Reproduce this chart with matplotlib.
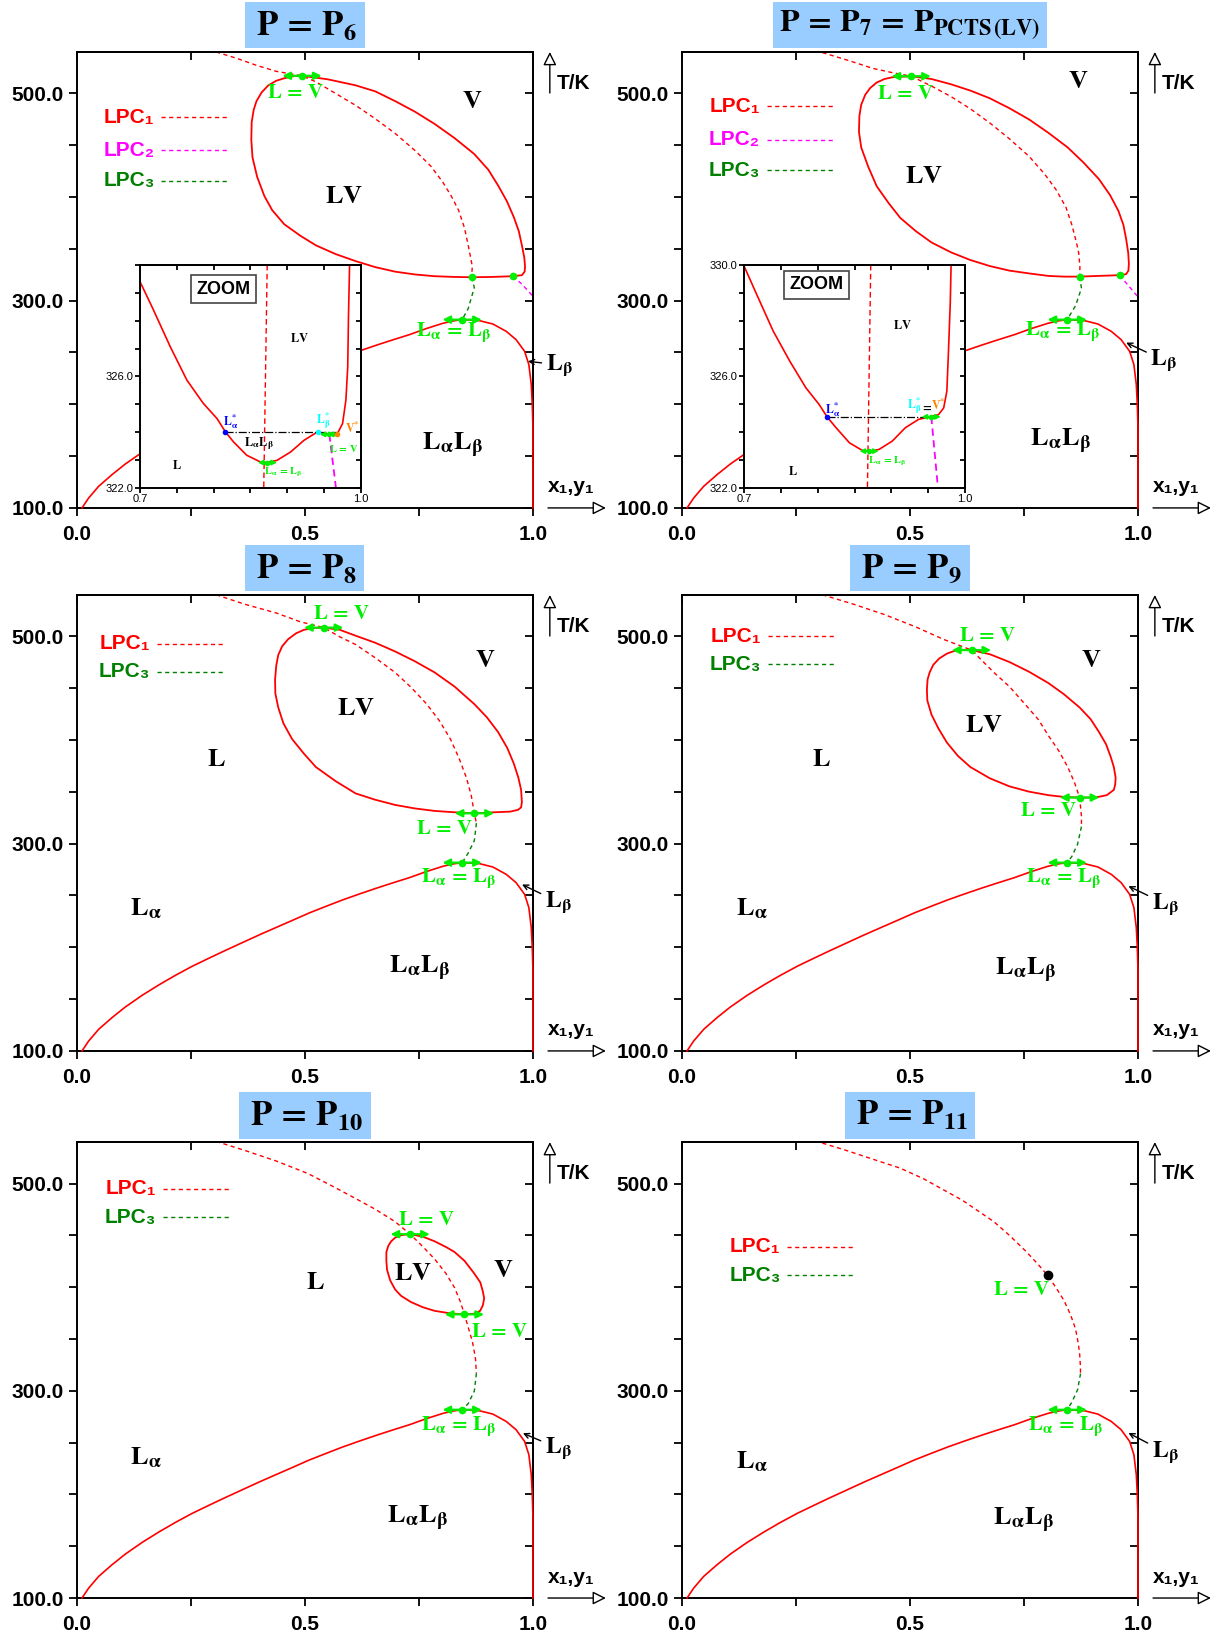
# Phase diagrams T-x at six pressures, P6 .. P11
import matplotlib.pyplot as plt

plt.rcParams['font.family'] = ['Liberation Sans', 'DejaVu Sans']
plt.rcParams['mathtext.fontset'] = 'stix'

RED = '#ff0000'
MAG = '#ff00ff'
DKGREEN = '#008000'
LIME = '#00ee00'

X_TICKS = [0.0, 0.25, 0.5, 0.75, 1.0]
X_TICK_LABELS = ['0.0', '', '0.5', '', '1.0']
Y_TICKS = [100, 150, 200, 250, 300, 350, 400, 450, 500]
Y_TICK_LABELS = ['100.0', '', '', '', '300.0', '', '', '', '500.0']
ZX_TICKS = [0.7, 0.75, 0.8, 0.85, 0.9, 0.95, 1.0]
ZX_TICK_LABELS = ['0.7', '', '', '', '', '', '1.0']
ZY_TICKS = [322, 323, 324, 325, 326, 327, 328, 329, 330]
ZY_TICK_LABELS_P6 = ['322.0', '', '', '', '326.0', '', '', '', '']
ZY_TICK_LABELS_P7 = ['322.0', '', '', '', '326.0', '', '', '', '330.0']

# Lalpha-Lbeta boundary (same in every panel)
LOW_X = [0.011, 0.0256, 0.0476, 0.077, 0.106, 0.143, 0.1795, 0.216, 0.2527, 0.289, 0.326, 0.3626,
         0.3993, 0.436, 0.4725, 0.509, 0.546, 0.5824, 0.619, 0.6557, 0.692, 0.729, 0.7656, 0.802,
         0.824, 0.8447, 0.8828, 0.912, 0.9414, 0.963, 0.9817, 0.991, 0.9963, 0.9985, 1.0, 1.0]
LOW_T = [100, 109.6, 120.9, 132.2, 142.4, 153.7, 163.7, 173, 181.7, 189.4, 197.1, 204.5,
         211.9, 219, 226, 233.1, 239.5, 245.7, 251.4, 256.9, 262.1, 267.2, 273, 278.1,
         280.4, 281.7, 280.7, 277.5, 270.4, 262.4, 251.1, 238.3, 219, 199.7, 177.2, 100]
LALB_POINT = (0.8447, 281.7)

# ---------------- P6 ----------------
P6_LV_X = [0.4935, 0.55, 0.611, 0.654, 0.698, 0.741, 0.7845, 0.828, 0.871, 0.902, 0.9236, 0.943, 0.958,
           0.969, 0.9757, 0.981, 0.9826, 0.9818, 0.9757, 0.9557, 0.9105, 0.8653, 0.828, 0.7845, 0.741,
           0.6977, 0.654, 0.6108, 0.567, 0.5239, 0.489, 0.4544, 0.428, 0.411, 0.395, 0.3849, 0.3823,
           0.3831, 0.3875, 0.3936, 0.405, 0.4196, 0.437, 0.4544, 0.476, 0.4935]
P6_LV_T = [517, 513.6, 507.8, 502, 492.5, 482.4, 470.5, 456.9, 441.6, 426.4, 411.1, 395.8, 380.6,
           367, 353.4, 341.6, 333.1, 328, 324.6, 323.6, 322.9, 322.6, 322.9, 323.6, 325.3,
           328, 332.4, 338.2, 345, 353.4, 362.9, 373.8, 387.4, 400.9, 419.6, 438.3, 455.2,
           472.2, 484.1, 492.5, 501, 507.8, 512.2, 514.6, 516.7, 517]
P6_LPC1_X = [0.305, 0.350, 0.3936, 0.437, 0.4935, 0.524, 0.567, 0.611, 0.654, 0.698, 0.741, 0.776,
             0.802, 0.821, 0.8367, 0.8497, 0.858, 0.864, 0.867, 0.8653]
P6_LPC1_T = [540, 533.9, 527.1, 521.3, 517, 511.2, 500, 488.5, 475.6, 461.3, 445, 429.8,
             414.5, 400.9, 387.4, 370.4, 353.4, 339.9, 333, 322.6]
P6_LPC2_X = [0.9557, 0.9757, 1.0]
P6_LPC2_T = [323.6, 316, 304.2]
P6_LPC3_X = [0.8653, 0.8714, 0.858, 0.8447]
P6_LPC3_T = [322.6, 312.7, 292.4, 281.7]
P6Z_X = [0.7, 0.718, 0.741, 0.7636, 0.786, 0.8045, 0.816, 0.827, 0.845, 0.8636, 0.873, 0.886, 0.9045,
         0.9227, 0.941, 0.957, 0.968, 0.975, 0.9795, 0.982, 0.983, 0.9845]
P6Z_T = [329.4, 328.4, 327.07, 325.87, 325.03, 324.49, 324.01, 323.65, 323.17, 322.93, 322.91, 322.99, 323.29,
         323.71, 324.01, 323.92, 323.95, 324.31, 325.15, 326.35, 328.14, 330]
P6Z_LPC1_X = [0.8727, 0.868]
P6Z_LPC1_T = [330, 322]
P6Z_LPC2_X = [0.957, 0.966]
P6Z_LPC2_T = [323.92, 322]
P6Z_TIE_X = [0.816, 0.968]
P6Z_TIE_T = [324.01, 324.01]

# ---------------- P7 ----------------
P7_LV_X = [0.5026, 0.547, 0.59, 0.6325, 0.675, 0.718, 0.761, 0.8034, 0.846, 0.880, 0.9145, 0.9385, 0.957,
           0.968, 0.974, 0.9786, 0.980, 0.979, 0.974, 0.96, 0.9145, 0.870, 0.8376, 0.803, 0.761, 0.718,
           0.675, 0.6325, 0.59, 0.547, 0.513, 0.4786, 0.453, 0.427, 0.4085, 0.393, 0.388, 0.389, 0.393,
           0.4017, 0.413, 0.427, 0.444, 0.4615, 0.5026]
P7_LV_T = [516.6, 513.9, 508.8, 502.7, 495.3, 485.7, 474.9, 462, 447.8, 433.5, 417.2, 402, 386.7,
           373.1, 359.5, 346, 335.8, 329, 325.6, 324.6, 323.9, 323.2, 323.2, 323.9, 326.3, 329,
           333.4, 339.2, 346.6, 356.2, 367, 379.9, 394.2, 410.4, 429.1, 447.8, 463, 478.3, 489.1,
           498.6, 505.4, 510.5, 513.9, 515.6, 516.6]
P7_LPC1_X = [0.3077, 0.359, 0.419, 0.4615, 0.5026, 0.547, 0.59, 0.6325, 0.675, 0.718, 0.761, 0.795,
             0.8205, 0.842, 0.855, 0.865, 0.870, 0.8726, 0.872]
P7_LPC1_T = [539.4, 532.6, 524.1, 520, 516.6, 507.1, 496.9, 485.1, 471.5, 456.2, 439.3, 422.3,
             407, 390.1, 373.1, 356.2, 346, 332.4, 323.2]
P7_LPC2_X = [0.96, 0.974, 1.0]
P7_LPC2_T = [324.6, 317.1, 303.6]
P7_LPC3_X = [0.872, 0.876, 0.863, 0.8447]
P7_LPC3_T = [323.2, 312, 295.1, 281.7]
P7Z_X = [0.7, 0.717, 0.7395, 0.762, 0.784, 0.802, 0.8127, 0.8249, 0.843, 0.8608, 0.8698, 0.8832, 0.9012,
         0.919, 0.937, 0.9528, 0.964, 0.971, 0.9753, 0.9775, 0.98, 0.981]
P7Z_T = [329.96, 328.95, 327.63, 326.55, 325.59, 324.99, 324.55, 324.16, 323.62, 323.34, 323.32, 323.38, 323.68,
         324.16, 324.46, 324.55, 324.63, 324.87, 325.47, 326.9, 328.7, 329.96]
P7Z_LPC1_X = [0.872, 0.8675]
P7Z_LPC1_T = [330, 322]
P7Z_LPC2_X = [0.9542, 0.9632]
P7Z_LPC2_T = [324.55, 322]
P7Z_TIE_X = [0.8127, 0.9528]
P7Z_TIE_T = [324.55, 324.55]

# ---------------- P8 ----------------
P8_LV_X = [0.541, 0.576, 0.611, 0.654, 0.6976, 0.741, 0.7845, 0.828, 0.8714, 0.899, 0.9235, 0.9435, 0.958,
           0.968, 0.974, 0.9757, 0.974, 0.967, 0.95, 0.915, 0.8714, 0.828, 0.7845, 0.741, 0.6976, 0.654,
           0.611, 0.567, 0.524, 0.498, 0.4718, 0.4527, 0.4414, 0.435, 0.4344, 0.437, 0.4414, 0.450, 0.463,
           0.4805, 0.498, 0.52, 0.541]
P8_LV_T = [508.5, 506.4, 500.7, 493.9, 485.5, 476, 465.2, 451.6, 434.7, 421.9, 407.7, 392.5, 377.3,
           363.7, 351.9, 340.1, 335, 332.6, 330.9, 330.3, 329.3, 330.3, 331.6, 334, 337.4, 342.4,
           348.5, 360.4, 373.9, 386.7, 400.9, 416.1, 431.4, 444.9, 458.4, 471.9, 482.1, 490.5, 497.3,
           503, 506.4, 508.1, 508.5]
P8_LPC1_X = [0.305, 0.3675, 0.437, 0.489, 0.541, 0.576, 0.611, 0.654, 0.6976, 0.7324, 0.767, 0.795,
             0.819, 0.838, 0.854, 0.8645, 0.8714, 0.876]
P8_LPC1_T = [540.2, 531.1, 522.6, 514.2, 508.5, 499.7, 492.2, 479.4, 465.2, 451, 434.7, 418.5,
             400.9, 382.3, 363.7, 346.8, 329.3, 319.8]
P8_LPC3_X = [0.876, 0.8714, 0.858, 0.8447]
P8_LPC3_T = [319.8, 302.9, 291, 281.7]

# ---------------- P9 ----------------
P9_LV_X = [0.635, 0.675, 0.718, 0.761, 0.8034, 0.8376, 0.872, 0.896, 0.9145, 0.930, 0.940, 0.947, 0.951,
           0.950, 0.947, 0.9316, 0.906, 0.872, 0.8376, 0.8034, 0.761, 0.718, 0.675, 0.6325, 0.605, 0.581,
           0.5624, 0.547, 0.538, 0.537, 0.5385, 0.543, 0.551, 0.564, 0.581, 0.598, 0.615, 0.635]
P9_LV_T = [486.8, 482.8, 475.3, 465.9, 455, 444.2, 431.4, 420.2, 407.7, 395.9, 384, 373.9, 363.7,
           357, 351.9, 346.8, 344.5, 344.5, 345.1, 346.8, 350.2, 355.3, 363.1, 373.9, 384.7, 397.5,
           411.1, 424.6, 438.1, 448.3, 458.4, 465.2, 472.6, 478.7, 483.4, 486.1, 487.1, 486.8]
P9_LPC1_X = [0.3077, 0.376, 0.4444, 0.513, 0.5726, 0.635, 0.684, 0.718, 0.752, 0.782, 0.8034, 0.827,
             0.846, 0.861, 0.872, 0.876, 0.876]
P9_LPC1_T = [540.2, 531.1, 521, 509.1, 497.3, 486.8, 465.2, 451.6, 434.7, 419.5, 404.3, 389.1,
             373.9, 358.7, 344.5, 326.5, 316.4]
P9_LPC3_X = [0.876, 0.8675, 0.855, 0.8447]
P9_LPC3_T = [316.4, 299.5, 287.7, 281.7]

# ---------------- P10 ----------------
P10_LV_X = [0.7307, 0.7585, 0.7845, 0.8106, 0.828, 0.850, 0.871, 0.8845, 0.890, 0.893, 0.890, 0.884,
            0.871, 0.8497, 0.819, 0.7845, 0.7585, 0.732, 0.7107, 0.6976, 0.687, 0.680, 0.6785, 0.6785,
            0.683, 0.689, 0.6976, 0.706, 0.7146, 0.7307]
P10_LV_T = [451.1, 448.7, 444.2, 438.4, 433.9, 425.3, 413.3, 404.6, 396, 389.2, 382.3, 377.1,
            374.4, 373.7, 374.7, 377.1, 380.6, 385.7, 391.6, 397.8, 406.4, 416.7, 425.3, 433.9,
            440.1, 444.2, 447.7, 449.4, 450.4, 451.1]
P10_LPC1_X = [0.305, 0.3675, 0.437, 0.5065, 0.567, 0.611, 0.654, 0.6976, 0.7307, 0.7585, 0.7845, 0.809,
              0.828, 0.841, 0.8497, 0.860, 0.867, 0.8714, 0.874, 0.876]
P10_LPC1_T = [540.6, 532, 521.7, 509.6, 495.9, 485.5, 475.2, 463.2, 451.1, 439.1, 427, 413.3,
              399.5, 385.7, 373.7, 358.2, 347.8, 337.5, 330.6, 316.9]
P10_LPC3_X = [0.876, 0.8714, 0.858, 0.8447]
P10_LPC3_T = [316.9, 299.7, 287.6, 281.7]

# ---------------- P11 ----------------
P11_LPC1_X = [0.3077, 0.359, 0.419, 0.4786, 0.530, 0.5726, 0.615, 0.6496, 0.684, 0.718, 0.752, 0.778,
              0.8017, 0.8205, 0.8376, 0.852, 0.863, 0.869, 0.872, 0.8735, 0.874]
P11_LPC1_T = [539, 532.1, 523.4, 514.8, 504.5, 494.1, 483.8, 473.4, 463.1, 450, 435.5, 423.4,
              411.4, 399.3, 387.2, 373.4, 359.7, 345.9, 335.5, 325.2, 316.6]
P11_LPC3_X = [0.874, 0.8675, 0.855, 0.8447]
P11_LPC3_T = [316.6, 301, 289, 281.7]
P11_CRIT = (0.8017, 411.4)


def bf(s):
    return r'$\mathbf{' + s + '}$'


LA = r'L_{\alpha}'
LB = r'L_{\beta}'
LEQV = r'L\,=\,V'
LAEQLB = LA + r'\,=\,' + LB

PANELS = [
    dict(title=bf(r'\,P\,=\,P_{6}\,'), tsize=25, pos=[0.0626, 0.6901],
         lv=(P6_LV_X, P6_LV_T), lpc1=(P6_LPC1_X, P6_LPC1_T), lpc2=(P6_LPC2_X, P6_LPC2_T),
         lpc3=(P6_LPC3_X, P6_LPC3_T),
         arrows=[(0.4935, 517), LALB_POINT], dots=[(0.8653, 322.6), (0.9557, 323.6)],
         legend=(0.185, 0.333, [477, 445, 415.5]),
         regions=[('V', 0.867, 492.5), ('LV', 0.585, 401), (LA + LB, 0.824, 160)],
         green=[(LEQV, 0.4805, 501), (LAEQLB, 0.825, 268.6)],
         lb=((1.028, 238), (0.989, 241.5))),
    dict(title=bf(r'P\,=\,P_{7}\,=\,P_{PCTS\,(LV)}'), tsize=23, pos=[0.5545, 0.6901],
         lv=(P7_LV_X, P7_LV_T), lpc1=(P7_LPC1_X, P7_LPC1_T), lpc2=(P7_LPC2_X, P7_LPC2_T),
         lpc3=(P7_LPC3_X, P7_LPC3_T),
         arrows=[(0.5026, 516.6), LALB_POINT], dots=[(0.872, 323.2), (0.96, 324.6)],
         legend=(0.186, 0.333, [487.8, 455.2, 425.7]),
         regions=[('V', 0.870, 512), ('LV', 0.53, 420.6), (LA + LB, 0.829, 164.5)],
         green=[(LEQV, 0.49, 500.3), (LAEQLB, 0.835, 269.6)],
         lb=((1.027, 242.5), (0.974, 259.5))),
    dict(title=bf(r'\,P\,=\,P_{8}\,'), tsize=25, pos=[0.0626, 0.3588],
         lv=(P8_LV_X, P8_LV_T), lpc1=(P8_LPC1_X, P8_LPC1_T), lpc2=None,
         lpc3=(P8_LPC3_X, P8_LPC3_T),
         arrows=[(0.541, 508.5), (0.8714, 329.3), LALB_POINT], dots=[],
         legend=(0.176, 0.324, [492.9, 465.9]),
         regions=[('V', 0.896, 477), ('LV', 0.611, 431), ('L', 0.305, 382), (LA, 0.150, 237),
                  (LA + LB, 0.75, 179.5)],
         green=[(LEQV, 0.58, 522), (LEQV, 0.806, 314.7), (LAEQLB, 0.837, 265.7)],
         lb=((1.026, 243.7), (0.976, 260.6))),
    dict(title=bf(r'\,P\,=\,P_{9}\,'), tsize=25, pos=[0.5545, 0.3588],
         lv=(P9_LV_X, P9_LV_T), lpc1=(P9_LPC1_X, P9_LPC1_T), lpc2=None,
         lpc3=(P9_LPC3_X, P9_LPC3_T),
         arrows=[(0.635, 486.8), (0.872, 344.5), LALB_POINT], dots=[],
         legend=(0.188, 0.338, [500, 473]),
         regions=[('V', 0.897, 477), ('LV', 0.662, 414.5), ('L', 0.306, 382), (LA, 0.154, 237),
                  (LA + LB, 0.752, 177.8)],
         green=[(LEQV, 0.671, 500.7), (LEQV, 0.803, 331.6), (LAEQLB, 0.838, 265.7)],
         lb=((1.03, 242), (0.979, 259))),
    dict(title=bf(r'\,P\,=\,P_{10}\,'), tsize=25, pos=[0.0626, 0.0250],
         lv=(P10_LV_X, P10_LV_T), lpc1=(P10_LPC1_X, P10_LPC1_T), lpc2=None,
         lpc3=(P10_LPC3_X, P10_LPC3_T),
         arrows=[(0.7307, 451.1), (0.8497, 373.7), LALB_POINT], dots=[],
         legend=(0.189, 0.337, [494.8, 467.3]),
         regions=[('V', 0.934, 416.7), ('LV', 0.737, 413.3), ('L', 0.522, 404.6), (LA, 0.150, 235),
                  (LA + LB, 0.747, 177)],
         green=[(LEQV, 0.767, 465.6), (LEQV, 0.927, 357), (LAEQLB, 0.837, 265.2)],
         lb=((1.026, 244.6), (0.978, 259))),
    dict(title=bf(r'\,P\,=\,P_{11}\,'), tsize=25, pos=[0.5545, 0.0250],
         lv=None, lpc1=(P11_LPC1_X, P11_LPC1_T), lpc2=None,
         lpc3=(P11_LPC3_X, P11_LPC3_T),
         arrows=[LALB_POINT], dots=[],
         legend=(0.231, 0.374, [439, 411.4]),
         regions=[(LA, 0.154, 232), (LA + LB, 0.748, 175.2)],
         green=[(LEQV, 0.744, 397.6), (LAEQLB, 0.842, 264.8)],
         lb=((1.03, 240.7), (0.979, 259.3)), crit=P11_CRIT),
]

INSETS = [
    dict(left=0.1138, x=P6Z_X, t=P6Z_T, lpc1=(P6Z_LPC1_X, P6Z_LPC1_T),
         lpc2=(P6Z_LPC2_X, P6Z_LPC2_T), tie=(P6Z_TIE_X, P6Z_TIE_T), ylabels=ZY_TICK_LABELS_P6,
         arrows=[(0.873, 322.91), (0.957, 323.92)],
         pts=[(0.816, 324.01, '#0000ff'), (0.941, 324.01, '#00ffff'), (0.968, 323.95, '#ff8000')],
         zoom=(0.38, 0.89), lv=(0.72, 0.67), l=(0.167, 0.10), lalb=(0.538, 0.20),
         green=[(LAEQLB, 0.65, 0.07), (LEQV, 0.92, 0.175)],
         stars=[(LA + '^{*}', '#0000ff', 0.41, 0.295), (LB + '^{*}', '#00ffff', 0.83, 0.30),
                ('V^{*}', '#ff8000', 0.96, 0.265)]),
    dict(left=0.6049, x=P7Z_X, t=P7Z_T, lpc1=(P7Z_LPC1_X, P7Z_LPC1_T),
         lpc2=(P7Z_LPC2_X, P7Z_LPC2_T), tie=(P7Z_TIE_X, P7Z_TIE_T), ylabels=ZY_TICK_LABELS_P7,
         arrows=[(0.8698, 323.32), (0.954, 324.55)],
         pts=[(0.8127, 324.55, '#0000ff')],
         zoom=(0.33, 0.91), lv=(0.716, 0.726), l=(0.22, 0.075), lalb=None,
         green=[(LAEQLB, 0.65, 0.12)],
         stars=[(LA + '^{*}', '#0000ff', 0.40, 0.35), (LB + '^{*}', '#00ffff', 0.77, 0.37),
                ('=', 'black', 0.828, 0.36), ('V^{*}', '#ff8000', 0.88, 0.37)]),
]

AX_W = 0.3707
AX_H = 0.2782
DASH = (0, (3, 2.5))


def green_arrow(ax, x, t, half, ms=4.5, scale=11, lw=1.6):
    ax.annotate('', xy=(x - half, t), xytext=(x + half, t),
                arrowprops=dict(arrowstyle='<|-|>', color=LIME, lw=lw, mutation_scale=scale,
                                shrinkA=0, shrinkB=0), annotation_clip=False)
    ax.plot([x], [t], 'o', color=LIME, ms=ms, zorder=6)


def style_ticks(ax, xt, xl, yt, yl, size, bold, length):
    ax.set_xticks(xt)
    ax.set_xticklabels(xl)
    ax.set_yticks(yt)
    ax.set_yticklabels(yl)
    ax.tick_params(direction='out', length=length, width=1.3, labelsize=size)
    for lbl in ax.get_xticklabels() + ax.get_yticklabels():
        lbl.set_fontweight('bold' if bold else 'normal')
    for s in ax.spines.values():
        s.set_linewidth(1.4)
    sx = ax.secondary_xaxis('top')
    sx.set_xticks(xt)
    sx.tick_params(direction='in', length=length, width=1.3, labeltop=False)
    sy = ax.secondary_yaxis('right')
    sy.set_yticks(yt)
    sy.tick_params(direction='in', length=length, width=1.3, labelright=False)
    for s in list(sx.spines.values()) + list(sy.spines.values()):
        s.set_linewidth(1.4)


fig = plt.figure(figsize=(12.3, 16.39), dpi=100)

for p in PANELS:
    ax = fig.add_axes([p['pos'][0], p['pos'][1], AX_W, AX_H])
    ax.set_xlim(0, 1)
    ax.set_ylim(100, 540)
    style_ticks(ax, X_TICKS, X_TICK_LABELS, Y_TICKS, Y_TICK_LABELS, 15, True, 5.5)
    ax.tick_params(axis='x', pad=7)
    ax.tick_params(axis='y', pad=4)

    ax.plot(LOW_X, LOW_T, color=RED, lw=1.2, clip_on=False, zorder=3)
    if p['lv'] is not None:
        ax.plot(*p['lv'], color=RED, lw=1.3)
    ax.plot(*p['lpc1'], color=RED, lw=1.0, ls=DASH)
    if p['lpc2'] is not None:
        ax.plot(*p['lpc2'], color=MAG, lw=1.0, ls=DASH)
    ax.plot(*p['lpc3'], color=DKGREEN, lw=1.0, ls=DASH)

    for x, t in p['arrows']:
        green_arrow(ax, x, t, 0.043)
    for x, t in p['dots']:
        ax.plot([x], [t], 'o', color=LIME, ms=4.5, zorder=6)
    if 'crit' in p:
        ax.plot([p['crit'][0]], [p['crit'][1]], 'o', color='black', ms=6, zorder=6)

    # legend
    x0, x1, rows = p['legend']
    entries = [('LPC\u2081', RED), ('LPC\u2082', MAG), ('LPC\u2083', DKGREEN)]
    if len(rows) == 2:
        entries = [entries[0], entries[2]]
    for (lab, c), t in zip(entries, rows):
        ax.plot([x0, x1], [t, t], color=c, lw=1.0, ls=DASH)
        ax.text(x0 - 0.015, t, lab, ha='right', va='center', color=c, fontsize=15,
                fontweight='bold')

    for lab, x, t in p['regions']:
        ax.text(x, t, bf(lab), ha='center', va='center', fontsize=19)
    for lab, x, t in p['green']:
        ax.text(x, t, bf(lab), ha='center', va='center', fontsize=15, color=LIME)

    ax.annotate(bf(LB), xy=p['lb'][1], xytext=p['lb'][0], ha='left', va='center', fontsize=17,
                arrowprops=dict(arrowstyle='->', color='black', lw=1.0, shrinkA=1, shrinkB=0,
                                mutation_scale=9),
                annotation_clip=False)

    # title box
    ax.text(0.5, 1.059, p['title'], transform=ax.transAxes, ha='center', va='center',
            fontsize=p['tsize'], bbox=dict(boxstyle='square,pad=0.2', fc='#99ccff', ec='none'))

    # axis arrows
    ax.annotate('', xy=(1.037, 1.0), xytext=(1.037, 0.91), xycoords='axes fraction',
                arrowprops=dict(arrowstyle='-|>', fc='white', ec='black', lw=1.0, mutation_scale=20,
                                shrinkA=0, shrinkB=0), annotation_clip=False)
    ax.text(1.053, 0.93, 'T/K', transform=ax.transAxes, ha='left', va='center', fontsize=15,
            fontweight='bold')
    ax.annotate('', xy=(1.16, 0.0), xytext=(1.033, 0.0), xycoords='axes fraction',
                arrowprops=dict(arrowstyle='-|>', fc='white', ec='black', lw=1.0, mutation_scale=20,
                                shrinkA=0, shrinkB=0), annotation_clip=False)
    ax.text(1.083, 0.046, 'x\u2081,y\u2081', transform=ax.transAxes, ha='center', va='center',
            fontsize=15, fontweight='bold')

for z in INSETS:
    ia = fig.add_axes([z['left'], 0.7023, 0.1797, 0.1361])
    ia.set_facecolor('white')
    ia.set_xlim(0.7, 1.0)
    ia.set_ylim(322, 330)
    style_ticks(ia, ZX_TICKS, ZX_TICK_LABELS, ZY_TICKS, z['ylabels'], 8, False, 3.5)
    ia.tick_params(axis='x', pad=1)
    ia.tick_params(axis='y', pad=1)
    ia.plot(z['x'], z['t'], color=RED, lw=1.2)
    ia.plot(*z['lpc1'], color=RED, lw=1.0, ls=(0, (4, 2.5)))
    ia.plot(*z['lpc2'], color=MAG, lw=1.3, ls=(0, (4, 2.5)))
    ia.plot(*z['tie'], color='black', lw=0.9, ls='-.')
    for x, t in z['arrows']:
        green_arrow(ia, x, t, 0.013, ms=3, scale=7, lw=1.3)
    for x, t, c in z['pts']:
        ia.plot([x], [t], 'o', color=c, ms=3, zorder=7)
    ia.text(z['zoom'][0], z['zoom'][1], 'ZOOM', transform=ia.transAxes, ha='center', va='center',
            fontsize=13, fontweight='bold',
            bbox=dict(boxstyle='square,pad=0.3', fc='white', ec='#444444', lw=1.2))
    ia.text(z['lv'][0], z['lv'][1], bf('LV'), transform=ia.transAxes, ha='center', va='center', fontsize=9)
    ia.text(z['l'][0], z['l'][1], bf('L'), transform=ia.transAxes, ha='center', va='center', fontsize=9)
    if z['lalb'] is not None:
        ia.text(z['lalb'][0], z['lalb'][1], bf(LA + LB), transform=ia.transAxes, ha='center',
                va='center', fontsize=9)
    for lab, x, y in z['green']:
        ia.text(x, y, bf(lab), transform=ia.transAxes, ha='center', va='center', fontsize=7.5, color=LIME)
    for lab, c, x, y in z['stars']:
        ia.text(x, y, bf(lab), transform=ia.transAxes, ha='center', va='center', fontsize=8.5, color=c)

fig.savefig('out.png', dpi=100, facecolor='white')
